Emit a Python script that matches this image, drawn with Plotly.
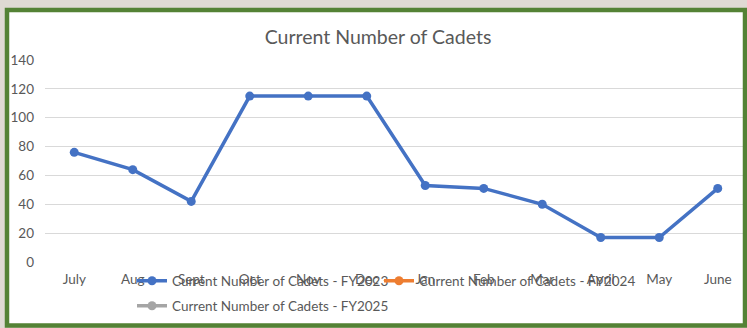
import plotly.graph_objects as go

months = ["July", "Aug", "Sept", "Oct", "Nov", "Dec",
          "Jan", "Feb", "Mar", "April", "May", "June"]
cadets_fy2023 = [76, 64, 42, 115, 115, 115, 53, 51, 40, 17, 17, 51]
cadets_fy2024 = [None] * 12
cadets_fy2025 = [None] * 12

series_names = ["Current Number of Cadets - FY2023",
                "Current Number of Cadets - FY2024",
                "Current Number of Cadets - FY2025"]
series_colors = ["#4472C4", "#ED7D31", "#A5A5A5"]

FONT = "Lato"
TXT = "#595959"

# plot-area geometry in pixels (used to place frame and legends)
W, H = 747, 328
ML, MR, MT, MB = 45, 0, 60, 66
PW = W - ML - MR
PH = H - MT - MB


def px_x(px):
    return (px - ML) / PW


def px_y(py):
    return (H - MB - py) / PH


fig = go.Figure()
legends = ["legend", "legend2", "legend3"]
for name, vals, col, lg in zip(series_names,
                               [cadets_fy2023, cadets_fy2024, cadets_fy2025],
                               series_colors, legends):
    fig.add_trace(go.Scatter(
        x=months, y=vals, name=name, mode="lines+markers",
        line=dict(color=col, width=3.5),
        marker=dict(color=col, size=9),
        legend=lg,
    ))

legend_style = dict(orientation="h", xanchor="left", yanchor="middle",
                    bgcolor="rgba(0,0,0,0)", itemwidth=30,
                    font=dict(family=FONT, size=13.5, color=TXT))

frame = dict(x0=px_x(7), x1=px_x(745), y0=px_y(325.5), y1=px_y(10))

fig.update_layout(
    width=W, height=H,
    margin=dict(l=ML, r=MR, t=MT, b=MB),
    paper_bgcolor="#dfdad3",
    plot_bgcolor="rgba(0,0,0,0)",
    title=dict(text="Current Number of Cadets", x=(378) / W,
               xanchor="center", y=1 - 37 / H, yanchor="middle",
               font=dict(family=FONT, size=19.5, color=TXT)),
    legend=dict(x=px_x(132), y=px_y(281), **legend_style),
    legend2=dict(x=px_x(379), y=px_y(281), **legend_style),
    legend3=dict(x=px_x(132), y=px_y(306), **legend_style),
    xaxis=dict(type="category", categoryarray=months, range=[-0.5, 11.5],
               showgrid=False, showline=False, zeroline=False, ticks="",
               tickfont=dict(family=FONT, size=13.5, color=TXT),
               ticklabelstandoff=7),
    yaxis=dict(range=[0, 140], dtick=20, showgrid=True, gridcolor="#d9d9d9",
               gridwidth=1, zeroline=False, showline=False, ticks="",
               tickfont=dict(family=FONT, size=13.5, color=TXT),
               ticklabelstandoff=10),
    shapes=[
        # white chart panel behind everything
        dict(type="rect", xref="paper", yref="paper", layer="below",
             fillcolor="white", line=dict(width=0), **frame),
        # green outline drawn on top
        dict(type="rect", xref="paper", yref="paper", layer="above",
             fillcolor="rgba(0,0,0,0)",
             line=dict(color="#548235", width=4.5), **frame),
    ],
    showlegend=True,
)

fig.write_html("out.html")
